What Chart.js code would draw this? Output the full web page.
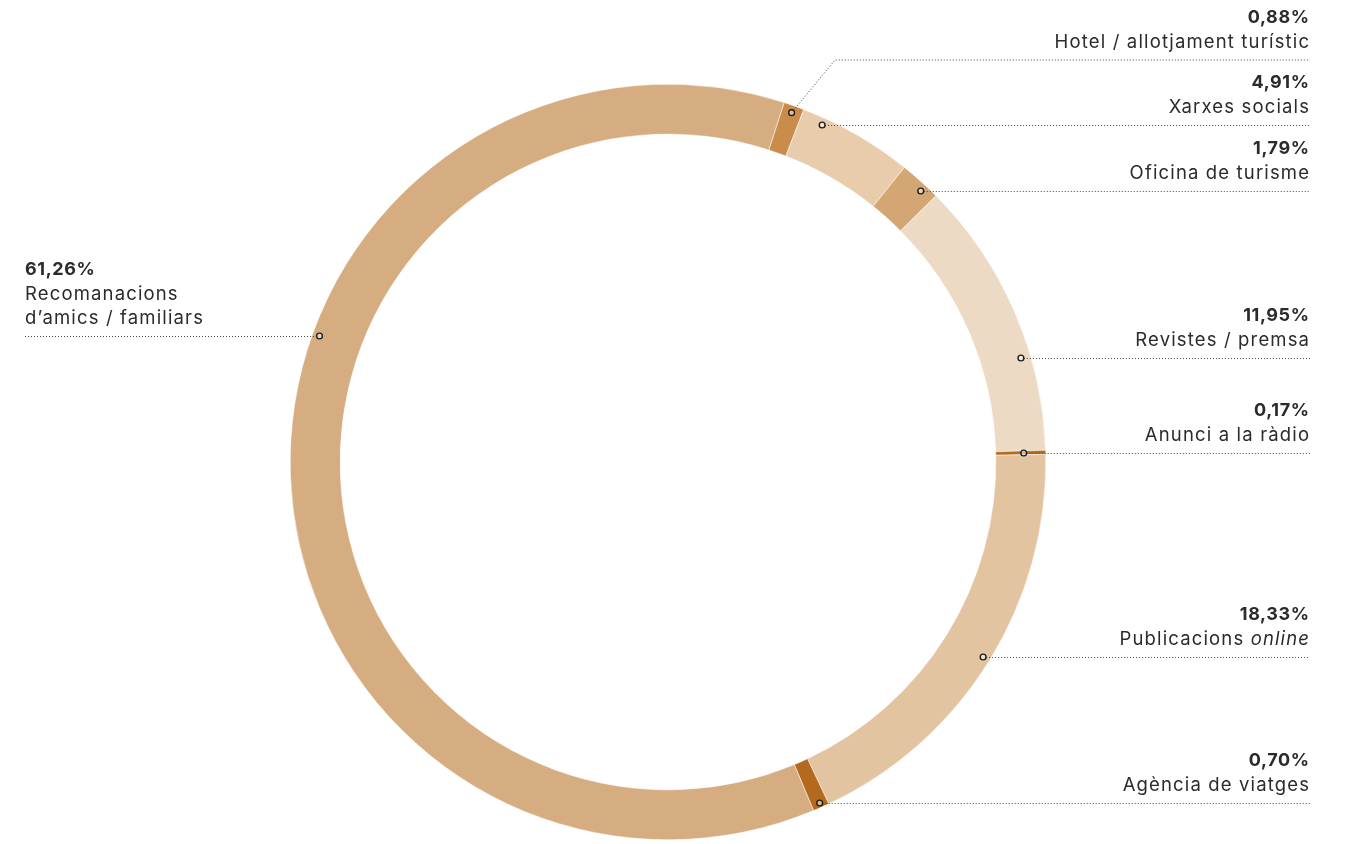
<!DOCTYPE html>
<html>
<head>
<meta charset="utf-8">
<script src="https://cdn.jsdelivr.net/npm/chart.js@4/dist/chart.umd.min.js"></script>
<style>
  html, body { margin: 0; padding: 0; background: #fff; }
  #wrap { width: 1348px; height: 844px; position: relative; }
</style>
</head>
<body>
<div id="wrap"><canvas id="chart"></canvas></div>
<script>
// clockwise from the hotel slice
const categories = [
  'Hotel / allotjament turístic',
  'Xarxes socials',
  'Oficina de turisme',
  'Revistes / premsa',
  'Anunci a la ràdio',
  'Publicacions online',
  'Agència de viatges',
  'Recomanacions d’amics / familiars'
]
const shares = [0.88, 4.91, 1.79, 11.95, 0.17, 18.33, 0.70, 61.26]
const colors = ['#c98c4b', '#e8ccab', '#d3a674', '#eddac4', '#b66b1b', '#e3c4a0', '#b46a1d', '#d5ad80']

// label placement: line y, side, radius of the marker relative to the outer edge
const labelLayout = [
  { y: 60, side: 'right', elbow: 835 },
  { y: 125, side: 'right' },
  { y: 191, side: 'right' },
  { y: 358, side: 'right', depth: 0.974 },
  { y: 453, side: 'right', depth: 0.942 },
  { y: 657, side: 'right' },
  { y: 803, side: 'right', depth: 0.988 },
  { y: 336, side: 'left', lines: ['Recomanacions', 'd’amics / familiars'] }
]

const fmt = v => v.toFixed(2).replace('.', ',') + '%'

const NAME_FONT = '18.5px Inter'
const NAME_ITALIC = 'italic 18.5px Inter'
const NAME_SPACING = 1.15
const PCT_FONT = 'bold 18px Inter'
const PCT_SPACING = 0.6

const labelsPlugin = {
  id: 'leaderLabels',
  afterDraw(chart) {
    const ctx = chart.ctx
    const arcs = chart.getDatasetMeta(0).data
    const rightX = 1309
    const leftX = 25
    const textColor = '#2b2b2b'

    arcs.forEach((arc, i) => {
      const lay = labelLayout[i]
      const r = arc.outerRadius * (lay.depth || 0.981)
      let mx, my
      if (lay.elbow) {
        const a = (arc.startAngle + arc.endAngle) / 2
        mx = arc.x + Math.cos(a) * r
        my = arc.y + Math.sin(a) * r
      } else {
        const dy = lay.y - arc.y
        const dx = Math.sqrt(r * r - dy * dy)
        mx = lay.side === 'right' ? arc.x + dx : arc.x - dx
        my = lay.y
      }

      // dotted leader
      ctx.save()
      ctx.strokeStyle = '#444'
      ctx.lineWidth = 1
      ctx.setLineDash([1, 2])
      ctx.beginPath()
      if (lay.elbow) {
        ctx.moveTo(mx, my)
        ctx.lineTo(lay.elbow, lay.y)
        ctx.lineTo(rightX + 1, lay.y)
      } else if (lay.side === 'right') {
        ctx.moveTo(mx + 3, lay.y + 0.5)
        ctx.lineTo(rightX + 1, lay.y + 0.5)
      } else {
        ctx.moveTo(leftX, lay.y + 0.5)
        ctx.lineTo(mx - 3, lay.y + 0.5)
      }
      ctx.stroke()
      ctx.restore()

      // marker
      ctx.save()
      ctx.beginPath()
      ctx.arc(mx, my, 2.9, 0, Math.PI * 2)
      ctx.fillStyle = 'rgba(255,255,255,0.5)'
      ctx.fill()
      ctx.lineWidth = 1.4
      ctx.strokeStyle = '#1e1e1e'
      ctx.stroke()
      ctx.restore()

      // texts
      ctx.save()
      ctx.fillStyle = textColor
      ctx.textBaseline = 'middle'
      const lines = lay.lines || [categories[i]]
      const nameBottom = lay.y - 19
      const pctY = nameBottom - lines.length * 24 + 1
      ctx.font = PCT_FONT
      ctx.letterSpacing = PCT_SPACING + 'px'
      if (lay.side === 'right') {
        ctx.textAlign = 'right'
        ctx.fillText(fmt(shares[i]), rightX + PCT_SPACING, pctY)
      } else {
        ctx.textAlign = 'left'
        ctx.fillText(fmt(shares[i]), leftX, pctY)
      }
      ctx.font = NAME_FONT
      ctx.letterSpacing = NAME_SPACING + 'px'
      lines.forEach((txt, k) => {
        const ly = pctY + 24 * (k + 1)
        if (txt === 'Publicacions online') {
          ctx.textAlign = 'left'
          ctx.font = NAME_ITALIC
          const wItal = ctx.measureText('online').width
          ctx.font = NAME_FONT
          const wReg = ctx.measureText('Publicacions ').width
          const x0 = rightX + NAME_SPACING - wItal - wReg
          ctx.fillText('Publicacions ', x0, ly)
          ctx.font = NAME_ITALIC
          ctx.fillText('online', x0 + wReg, ly)
          ctx.font = NAME_FONT
        } else if (lay.side === 'right') {
          ctx.textAlign = 'right'
          ctx.fillText(txt, rightX + NAME_SPACING, ly)
        } else {
          ctx.textAlign = 'left'
          ctx.fillText(txt, leftX, ly)
        }
      })
      ctx.restore()
    })
  }
}

new Chart(document.getElementById('chart'), {
  type: 'doughnut',
  data: {
    labels: categories,
    datasets: [{
      data: shares,
      backgroundColor: colors,
      borderColor: '#fff',
      borderWidth: 0.5,
      hoverOffset: 0
    }]
  },
  options: {
    responsive: true,
    maintainAspectRatio: false,
    animation: false,
    rotation: 17.9,
    cutout: '86.8%',
    layout: {
      padding: { left: 290, right: 302, top: 84, bottom: 4 }
    },
    plugins: {
      legend: { display: false },
      tooltip: { enabled: false }
    }
  },
  plugins: [labelsPlugin]
})
</script>
</body>
</html>
